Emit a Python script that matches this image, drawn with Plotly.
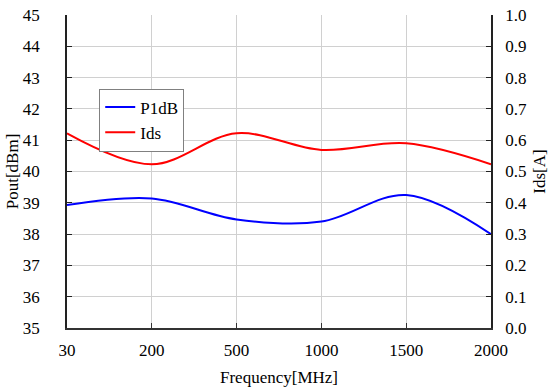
import plotly.graph_objects as go

freq = ["30", "200", "500", "1000", "1500", "2000"]
p1db = [38.93, 39.14, 38.47, 38.40, 39.25, 38.00]
ids = [0.622, 0.523, 0.622, 0.569, 0.590, 0.523]

FONT = "Liberation Serif"
TICKF = dict(family=FONT, size=17, color="black")
TITLEF = dict(family=FONT, size=17, color="black")

fig = go.Figure()
fig.add_trace(go.Scatter(x=freq, y=p1db, name="P1dB", mode="lines",
                         line=dict(color="#0000ff", width=2, shape="spline", smoothing=1)))
fig.add_trace(go.Scatter(x=freq, y=ids, name="Ids", mode="lines", yaxis="y2",
                         line=dict(color="#ff0000", width=2, shape="spline", smoothing=1)))

fig.update_layout(
    template="none",
    width=549, height=389,
    margin=dict(l=66.5, r=57.5, t=15, b=61),
    paper_bgcolor="white", plot_bgcolor="white",
    font=dict(family=FONT, size=17, color="black"),
    showlegend=True,
    legend=dict(x=0.076, y=0.765, xanchor="left", yanchor="top",
                bordercolor="#808080", borderwidth=1, bgcolor="white",
                font=dict(family=FONT, size=17), itemwidth=30,
                tracegroupgap=0),
    xaxis=dict(type="category", range=[0, 5], showgrid=True, gridcolor="#d0d0d0",
               showline=True, linecolor="#333", linewidth=1.5, ticks="inside",
               ticklen=5, tickcolor="#333", tickfont=TICKF, ticklabelstandoff=6,
               title=dict(text="Frequency[MHz]", standoff=12, font=TITLEF),
               zeroline=False, automargin=False),
    yaxis=dict(range=[35, 45], dtick=1, showgrid=True, gridcolor="#d0d0d0",
               showline=True, linecolor="#222", linewidth=1.5, ticks="inside",
               ticklen=5, tickcolor="#222", tickfont=TICKF, ticklabelstandoff=22,
               title=dict(text="Pout[dBm]", standoff=0, font=TITLEF),
               zeroline=False, automargin=False),
    yaxis2=dict(range=[0, 1], dtick=0.1, tickformat=".1f", overlaying="y", side="right",
                showgrid=False, showline=True, linecolor="#222", linewidth=1.5,
                ticks="inside", ticklen=5, tickcolor="#222", tickfont=TICKF,
                ticklabelstandoff=9,
                title=dict(text="Ids[A]", standoff=7, font=TITLEF),
                zeroline=False, automargin=False),
)
fig.write_html("out.html")
